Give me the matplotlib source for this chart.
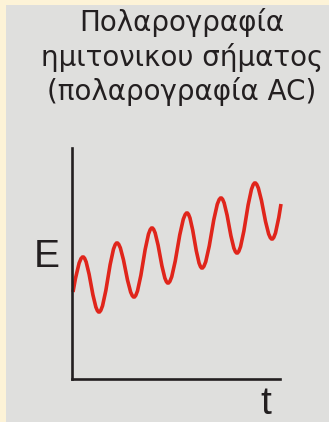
import matplotlib
matplotlib.use("Agg")
import matplotlib.pyplot as plt
import numpy as np
from matplotlib.path import Path
from matplotlib.patches import PathPatch, Rectangle

# Turning points of the AC polarography signal (arbitrary units)
t_pts = np.array([1, 11, 27, 45, 62, 80, 96, 115, 130, 149, 165, 183, 200, 209], dtype=float)
e_pts = np.array([87, 122, 67, 136, 82, 151, 96, 166, 111, 181, 126, 196, 140, 175], dtype=float)

title_lines = ["Πολαρογραφία", "ημιτονικου σήματος", "(πολαρογραφία AC)"]
x_label = "t"
y_label = "E"

W, H = 329, 422
fig = plt.figure(figsize=(W / 100, H / 100), dpi=100)
fig.patch.set_facecolor("#fdf3d7")
fig.patches.append(Rectangle((6 / W, 0), 1, 1 - 5 / H, transform=fig.transFigure,
                             facecolor="#dfdfdd", edgecolor="none", zorder=-10))

ax = fig.add_axes([72 / W, (H - 379) / H, (280 - 72) / W, (379 - 148) / H])
ax.set_facecolor("none")
ax.set_xlim(0, 208)
ax.set_ylim(0, 231)
for side in ("top", "right"):
    ax.spines[side].set_visible(False)
for side in ("left", "bottom"):
    ax.spines[side].set_linewidth(1.9)
    ax.spines[side].set_color("#231f20")
ax.set_xticks([])
ax.set_yticks([])

# smooth wave through the turning points with cubic Bezier segments
k = 0.364
verts = [(t_pts[0], e_pts[0])]
codes = [Path.MOVETO]
n = len(t_pts)
for i in range(n - 1):
    x0, y0, x1, y1 = t_pts[i], e_pts[i], t_pts[i + 1], e_pts[i + 1]
    dx, dy = x1 - x0, y1 - y0
    if i == 0:
        c1 = (x0 + dx / 3, y0 + dy * np.pi / 6)
    else:
        c1 = (x0 + k * dx, y0)
    if i == n - 2:
        c2 = (x1 - dx / 3, y1 - dy * np.pi / 6)
    else:
        c2 = (x1 - k * dx, y1)
    verts += [c1, c2, (x1, y1)]
    codes += [Path.CURVE4] * 3
ax.add_patch(PathPatch(Path(verts, codes), facecolor="none", edgecolor="#e0251b",
                       linewidth=2.6, capstyle="butt", clip_on=False))

for line, base in zip(title_lines, [31, 66, 100]):
    fig.text(182 / W, 1 - base / H, line, ha="center", va="baseline",
             fontsize=20, family="DejaVu Sans", color="#231f20")

fig.text(47 / W, 1 - 267 / H, y_label, ha="center", va="baseline",
         fontsize=28, family="Liberation Sans", color="#231f20")
fig.text(265.5 / W, 1 - 414 / H, x_label, ha="center", va="baseline",
         fontsize=28, family="Liberation Sans", color="#231f20")

fig.savefig("out.png", dpi=100, facecolor=fig.get_facecolor())
